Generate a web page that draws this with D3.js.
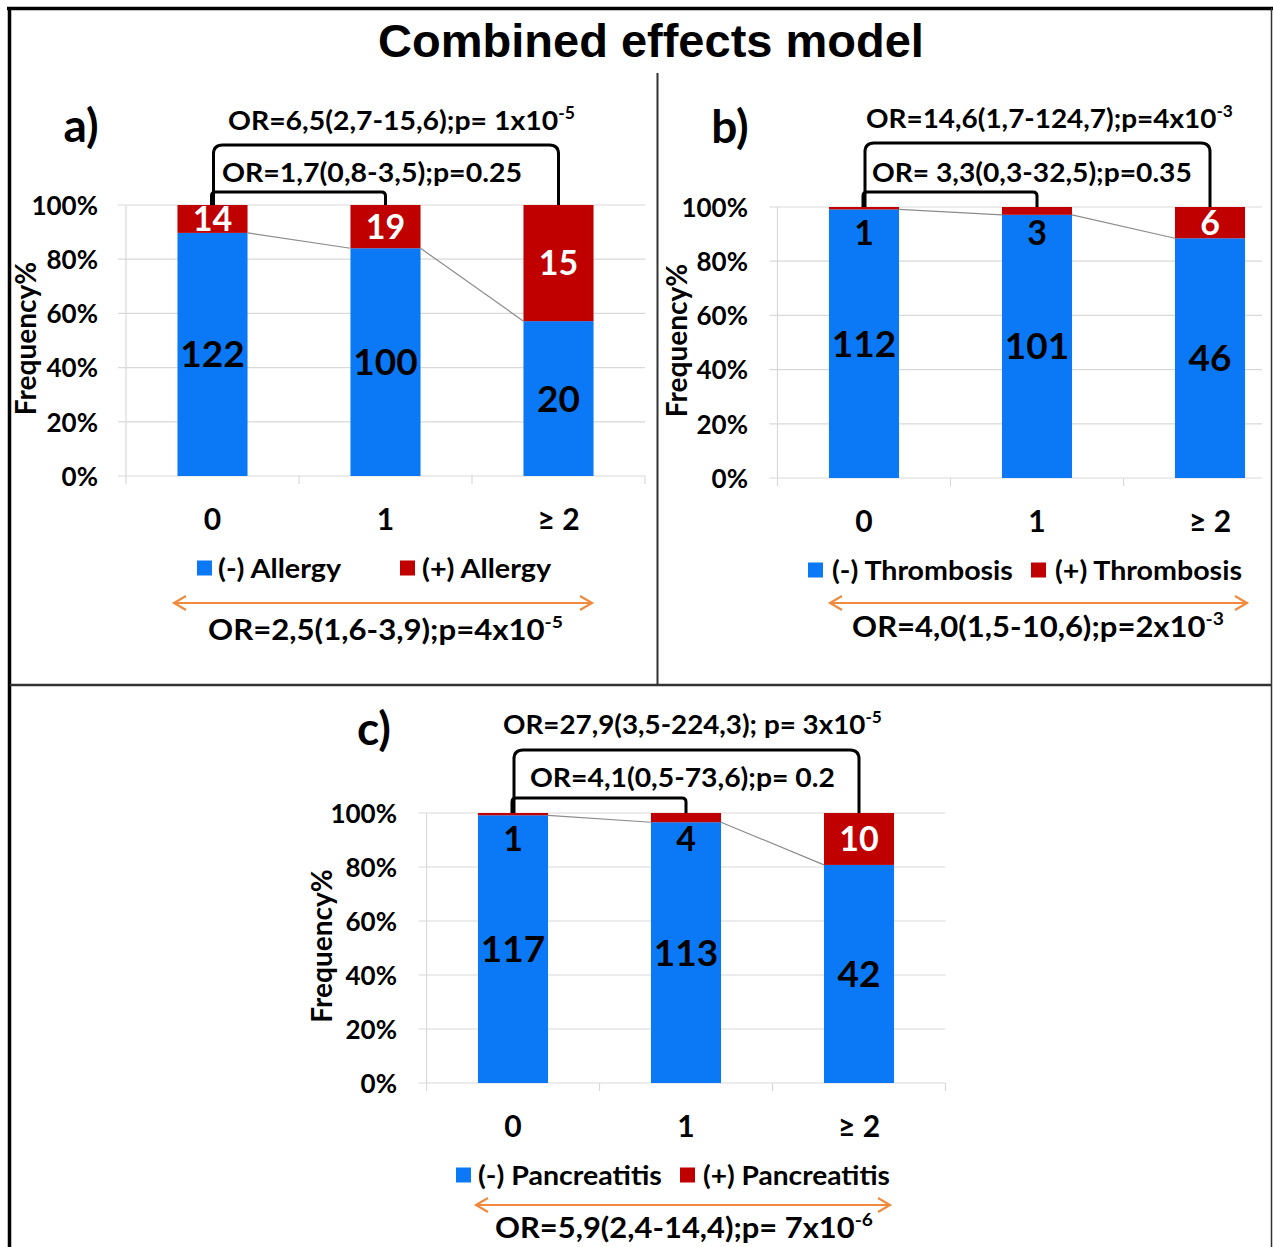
<!DOCTYPE html>
<html><head><meta charset="utf-8">
<script src="https://cdn.jsdelivr.net/npm/d3@7"></script>
<style>body{margin:0;background:#fff} svg{display:block}</style>
</head><body>
<svg id="chart" width="1273" height="1247"></svg>
<script>
// ---------------- data ----------------
const categories = ["0", "1", "≥ 2"];
const yTickValues = [0, 0.2, 0.4, 0.6, 0.8, 1];

const allergyNeg = [122, 100, 20];
const allergyPos = [14, 19, 15];
const allergyLegend = ["(-) Allergy", "(+) Allergy"];
const allergyOR = [["OR=6,5(2,7-15,6);p= 1x10", "-5"], ["OR=1,7(0,8-3,5);p=0.25", ""], ["OR=2,5(1,6-3,9);p=4x10", "-5"]];

const thrombosisNeg = [112, 101, 46];
const thrombosisPos = [1, 3, 6];
const thrombosisLegend = ["(-) Thrombosis", "(+) Thrombosis"];
const thrombosisOR = [["OR=14,6(1,7-124,7);p=4x10", "-3"], ["OR= 3,3(0,3-32,5);p=0.35", ""], ["OR=4,0(1,5-10,6);p=2x10", "-3"]];

const pancreatitisNeg = [117, 113, 42];
const pancreatitisPos = [1, 4, 10];
const pancreatitisLegend = ["(-) Pancreatitis", "(+) Pancreatitis"];
const pancreatitisOR = [["OR=27,9(3,5-224,3); p= 3x10", "-5"], ["OR=4,1(0,5-73,6);p= 0.2", ""], ["OR=5,9(2,4-14,4);p= 7x10", "-6"]];

const titleText = "Combined effects model";
const yAxisTitle = "Frequency%";

// ---------------- style ----------------
const FONT = "Lato, 'Open Sans', sans-serif";
const BLUE = "#0B79F6";
const RED = "#C00000";
const GRID = "#D9D9D9";
const ORANGE = "#F08A3E";

const svg = d3.select("#chart");

function addText(g, x, y, main, sup, size, anchor, fill, targetW) {
  const t = g.append("text")
    .attr("x", x).attr("y", y)
    .attr("font-family", FONT).attr("font-weight", 700)
    .attr("font-size", size).attr("text-anchor", anchor || "start")
    .attr("fill", fill || "#000");
  t.append("tspan").text(main);
  if (sup) t.append("tspan").attr("dy", -size * 0.42).attr("font-size", size * 0.62).text(sup);
  if (targetW) {
    const w = t.node().getBBox().width;
    if (w > 0) {
      const sx = targetW / w;
      t.attr("transform", `translate(${x},0) scale(${sx},1) translate(${-x},0)`);
    }
  }
  return t;
}

// ---------------- frame ----------------
svg.append("line").attr("x1", 7).attr("x2", 1273).attr("y1", 8.5).attr("y2", 8.5).attr("stroke", "#000").attr("stroke-width", 3.5);
svg.append("line").attr("x1", 9.5).attr("x2", 9.5).attr("y1", 7).attr("y2", 1247).attr("stroke", "#000").attr("stroke-width", 3.5);
svg.append("line").attr("x1", 1271.5).attr("x2", 1271.5).attr("y1", 8).attr("y2", 1247).attr("stroke", "#333").attr("stroke-width", 1.5);
svg.append("line").attr("x1", 657.5).attr("x2", 657.5).attr("y1", 73).attr("y2", 685).attr("stroke", "#333").attr("stroke-width", 2);
svg.append("line").attr("x1", 10).attr("x2", 1271).attr("y1", 685).attr("y2", 685).attr("stroke", "#333").attr("stroke-width", 2.5);

svg.append("text").attr("x", 651).attr("y", 57)
  .attr("font-family", "'Liberation Sans', Arial, sans-serif").attr("font-weight", 700)
  .attr("font-size", 47).attr("text-anchor", "middle").text(titleText);

// ---------------- panels ----------------
const panels = [
  { id: "a", neg: allergyNeg, pos: allergyPos, legend: allergyLegend, or: allergyOR,
    x0: 126, yTop: 205, yBot: 476, clipRight: 1273, labelRight: 98, freqX: 27,
    tag: { x: 81, y: 142 }, outerTop: 145, innerTop: 192,
    outerText: { x: 228, y: 130, w: 347 }, innerText: { x: 222, y: 182, w: 300 },
    catY: 530, legY: 568, leg: [197, 218, 400, 422], legW: [124, 130],
    arrow: [174, 592, 603], bottom: { x: 385.5, y: 640, w: 355 } },
  { id: "b", neg: thrombosisNeg, pos: thrombosisPos, legend: thrombosisLegend, or: thrombosisOR,
    x0: 777.5, yTop: 207, yBot: 478, clipRight: 1262, labelRight: 748, freqX: 678,
    tag: { x: 730, y: 143 }, outerTop: 143, innerTop: 192,
    outerText: { x: 866, y: 128, w: 367 }, innerText: { x: 872, y: 182, w: 320 },
    catY: 532, legY: 570, leg: [808, 832, 1031, 1055], legW: [181, 187],
    arrow: [830, 1247, 603], bottom: { x: 1038, y: 637, w: 372 } },
  { id: "c", neg: pancreatitisNeg, pos: pancreatitisPos, legend: pancreatitisLegend, or: pancreatitisOR,
    x0: 426.5, yTop: 813, yBot: 1083, clipRight: 1273, labelRight: 397, freqX: 323,
    tag: { x: 374, y: 745 }, outerTop: 750, innerTop: 798,
    outerText: { x: 503, y: 734, w: 379 }, innerText: { x: 530, y: 787, w: 305 },
    catY: 1137, legY: 1175, leg: [456, 478, 680, 703], legW: [184, 187],
    arrow: [476, 890, 1205], bottom: { x: 684, y: 1238, w: 378 } }
];

panels.forEach(p => {
  const g = svg.append("g");
  const plotW = 519;
  const x = d3.scaleBand().domain(categories).range([p.x0, p.x0 + plotW])
    .paddingInner(0.595).paddingOuter(0.2975);
  const y = d3.scaleLinear().domain([0, 1]).range([p.yBot, p.yTop]);
  const bw = x.bandwidth();

  const clipId = "clip-" + p.id;
  svg.append("clipPath").attr("id", clipId).append("rect")
    .attr("x", 0).attr("y", 0).attr("width", p.clipRight).attr("height", 1247);
  const pg = g.append("g").attr("clip-path", `url(#${clipId})`);

  // gridlines
  pg.selectAll(".grid").data(yTickValues).join("line")
    .attr("x1", p.x0 - 8).attr("x2", p.x0 + plotW)
    .attr("y1", d => y(d)).attr("y2", d => y(d))
    .attr("stroke", GRID).attr("stroke-width", 1.2);
  pg.append("line").attr("x1", p.x0).attr("x2", p.x0).attr("y1", p.yTop).attr("y2", p.yBot + 8)
    .attr("stroke", GRID).attr("stroke-width", 1.2);
  pg.selectAll(".xt").data(d3.range(1, categories.length + 1)).join("line")
    .attr("x1", i => p.x0 + i * x.step()).attr("x2", i => p.x0 + i * x.step())
    .attr("y1", p.yBot).attr("y2", p.yBot + 8)
    .attr("stroke", GRID).attr("stroke-width", 1.2);

  // y axis labels
  const ax = g.append("g").attr("transform", `translate(${p.labelRight},0)`)
    .call(d3.axisLeft(y).tickValues(yTickValues).tickFormat(d3.format(".0%")).tickSize(0).tickPadding(0));
  ax.select(".domain").remove();
  ax.selectAll("text").attr("font-family", FONT).attr("font-weight", 700).attr("font-size", 26).attr("fill", "#000").attr("dy", "0.36em");

  g.append("text").attr("transform", `translate(${p.freqX + 9},${(p.yTop + p.yBot) / 2 - 2}) rotate(-90)`)
    .attr("font-family", FONT).attr("font-weight", 700).attr("font-size", 28)
    .attr("text-anchor", "middle").text(yAxisTitle);

  const rows = categories.map((c, i) => {
    const tot = p.neg[i] + p.pos[i];
    return { c, neg: p.neg[i], pos: p.pos[i], f: p.neg[i] / tot };
  });

  // bars
  pg.selectAll(".neg").data(rows).join("rect")
    .attr("x", d => x(d.c)).attr("width", bw)
    .attr("y", d => y(d.f)).attr("height", d => y(0) - y(d.f)).attr("fill", BLUE);
  pg.selectAll(".pos").data(rows).join("rect")
    .attr("x", d => x(d.c)).attr("width", bw)
    .attr("y", y(1)).attr("height", d => y(d.f) - y(1)).attr("fill", RED);

  // series lines
  for (let i = 0; i < rows.length - 1; i++) {
    pg.append("line")
      .attr("x1", x(rows[i].c) + bw).attr("y1", y(rows[i].f))
      .attr("x2", x(rows[i + 1].c)).attr("y2", y(rows[i + 1].f))
      .attr("stroke", "#8C8C8C").attr("stroke-width", 1.2);
  }

  // data labels
  rows.forEach(d => {
    const cx = x(d.c) + bw / 2;
    addText(g, cx, (y(d.f) + y(0)) / 2 + 13, String(d.neg), "", 37, "middle", "#000");
    const h = y(d.f) - y(1);
    if (h >= 20) addText(g, cx, (y(d.f) + y(1)) / 2 + 12, String(d.pos), "", 34, "middle", "#fff");
    else addText(g, cx, y(1) + 38, String(d.pos), "", 34, "middle", "#000");
  });

  // category labels
  rows.forEach(d => addText(g, x(d.c) + bw / 2, p.catY, d.c, "", 30, "middle", "#000"));

  // panel tag
  addText(g, p.tag.x, p.tag.y, p.id + ")", "", 46, "middle", "#000");

  // brackets
  const cx0 = x(categories[0]) + bw / 2, cx1 = x(categories[1]) + bw / 2, cx2 = x(categories[2]) + bw / 2;
  function bracket(xl, xr, top, r) {
    const bot = p.yTop;
    return `M${xl},${bot} L${xl},${top + r} Q${xl},${top} ${xl + r},${top} L${xr - r},${top} Q${xr},${top} ${xr},${top + r} L${xr},${bot}`;
  }
  g.append("path").attr("d", bracket(cx0 + 1, cx2, p.outerTop, 9)).attr("fill", "none").attr("stroke", "#000").attr("stroke-width", 3);
  g.append("path").attr("d", bracket(cx0 - 1, cx1, p.innerTop, 4)).attr("fill", "none").attr("stroke", "#000").attr("stroke-width", 3);

  addText(g, p.outerText.x, p.outerText.y, p.or[0][0], p.or[0][1], 27, "start", "#000", p.outerText.w);
  addText(g, p.innerText.x, p.innerText.y, p.or[1][0], p.or[1][1], 27, "start", "#000", p.innerText.w);

  // legend
  const colors = [BLUE, RED];
  [0, 1].forEach(k => {
    g.append("rect").attr("x", p.leg[k * 2]).attr("y", p.legY - 7.5).attr("width", 15).attr("height", 15).attr("fill", colors[k]);
    addText(g, p.leg[k * 2 + 1], p.legY + 10, p.legend[k], "", 27, "start", "#000", p.legW[k]);
  });

  // orange arrow
  const [a1, a2, ay] = p.arrow;
  g.append("path").attr("d", `M${a1},${ay} L${a2},${ay} M${a1 + 12},${ay - 7} L${a1},${ay} L${a1 + 12},${ay + 7} M${a2 - 12},${ay - 7} L${a2},${ay} L${a2 - 12},${ay + 7}`)
    .attr("fill", "none").attr("stroke", ORANGE).attr("stroke-width", 2.2);

  addText(g, p.bottom.x, p.bottom.y, p.or[2][0], p.or[2][1], 29, "middle", "#000", p.bottom.w);
});
</script>
</body></html>
